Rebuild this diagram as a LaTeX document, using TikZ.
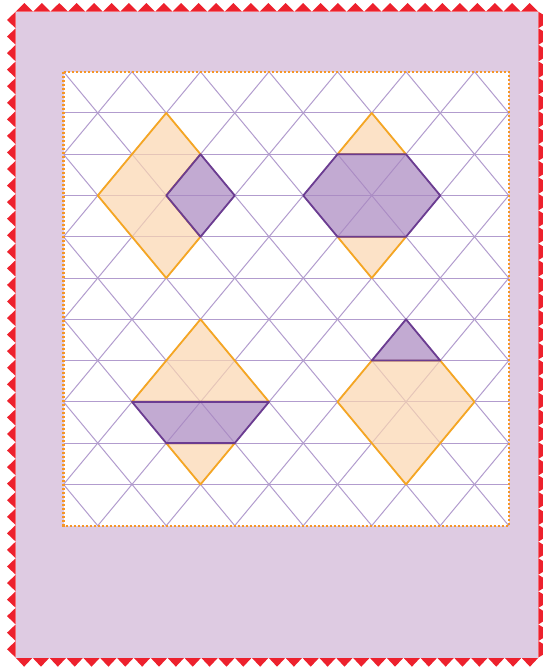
\documentclass[tikz,border=0pt]{standalone}
\usepackage{tikz}
\usepackage{xcolor}
\definecolor{pagelilac}{RGB}{222,203,226}
\definecolor{edgered}{RGB}{237,33,45}
\definecolor{gridlilac}{RGB}{178,156,206}
\definecolor{tileorange}{RGB}{252,215,176}
\definecolor{lineorange}{RGB}{245,166,35}
\definecolor{tilepurple}{RGB}{169,135,192}
\definecolor{linepurple}{RGB}{107,60,145}
\definecolor{dotorange}{RGB}{245,150,40}

\tikzset{
  gridline/.style={gridlilac, line width=1pt},
  orangetile/.style={fill=tileorange, fill opacity=0.7, draw=lineorange, line width=1.8pt, line join=round},
  purpletile/.style={fill=tilepurple, fill opacity=0.7, draw=linepurple, line width=1.8pt, line join=round}
}

\begin{document}
\begin{tikzpicture}[x=1pt,y=-1pt]
\useasboundingbox (0,0) rectangle (542,667);

% pinked edge
\foreach \k in {0,...,29}
  \fill[edgered] ({15.7+17.42*\k},11.7) -- ({15.7+17.42*(\k+0.5)},3) -- ({15.7+17.42*(\k+1)},11.7) -- cycle;
\foreach \k in {0,...,30}
  \fill[edgered] ({15.7+16.86*\k},657.7) -- ({15.7+16.86*(\k+0.5)},666.7) -- ({15.7+16.86*(\k+1)},657.7) -- cycle;
\foreach \k in {0,...,38} {
  \fill[edgered] (15.7,{11.7+16.56*\k}) -- (7,{11.7+16.56*(\k+0.5)}) -- (15.7,{11.7+16.56*(\k+1)}) -- cycle;
  \fill[edgered] (538.3,{11.7+16.56*\k}) -- (552,{11.7+16.56*(\k+0.5)}) -- (538.3,{11.7+16.56*(\k+1)}) -- cycle;
}
\fill[pagelilac] (15.7,11.7) rectangle (538.3,657.7);

\begin{scope}[shift={(63.5,71.7)}, x=34.25pt, y=-41.27pt]
\fill[white] (0,0) rectangle (13,11);

% triangle grid
\begin{scope}
\clip (0,0) rectangle (13,11);
\foreach \j in {1,...,10} \draw[gridline] (0,\j) -- (13,\j);
\foreach \c in {-10,-8,...,12} \draw[gridline] (\c,0) -- (\c+11,11);
\foreach \c in {0,2,...,24} \draw[gridline] (\c,0) -- (\c-11,11);
\end{scope}

% top left
\draw[orangetile] (3,1) -- (4,2) -- (3,3) -- (4,4) -- (3,5) -- (1,3) -- cycle;
\draw[purpletile] (4,2) -- (5,3) -- (4,4) -- (3,3) -- cycle;

% top right
\draw[orangetile] (9,1) -- (10,2) -- (8,2) -- cycle;
\draw[orangetile] (8,4) -- (10,4) -- (9,5) -- cycle;
\draw[purpletile] (7,3) -- (8,2) -- (10,2) -- (11,3) -- (10,4) -- (8,4) -- cycle;

% bottom left
\draw[orangetile] (4,6) -- (6,8) -- (2,8) -- cycle;
\draw[orangetile] (3,9) -- (5,9) -- (4,10) -- cycle;
\draw[purpletile] (2,8) -- (6,8) -- (5,9) -- (3,9) -- cycle;

% bottom right
\draw[orangetile] (9,7) -- (11,7) -- (12,8) -- (10,10) -- (8,8) -- cycle;
\draw[purpletile] (10,6) -- (11,7) -- (9,7) -- cycle;

\draw[dotorange, line width=2.2pt, dash pattern=on 2pt off 2pt] (0,0) rectangle (13,11);
\end{scope}

\end{tikzpicture}
\end{document}
